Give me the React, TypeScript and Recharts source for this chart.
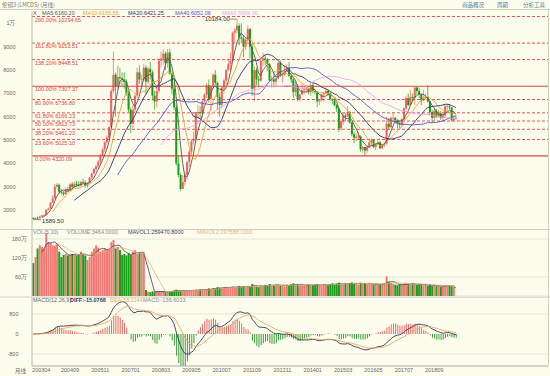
import React from 'react';
import { ComposedChart, Bar, Line, XAxis, YAxis, ReferenceLine, ReferenceDot, CartesianGrid, Cell } from 'recharts';

// ---------- data (monthly, 2003-04 .. 2019-07) ----------
const opens = [
  1660, 1620, 1660, 1650, 1720, 1770, 1790, 2010, 2060,
  2320, 2500, 3000, 3080, 2780, 2750, 2680, 2900, 2850, 3100, 2990, 3130,
  3080, 3050, 3200, 3180, 3040, 3150, 3380, 3560, 3760, 3880, 4080, 4350,
  4600, 4900, 5100, 5550, 7100, 7800, 7300, 7700, 7650, 7600, 7500, 7000,
  6300, 5700, 6300, 6900, 7900, 7600, 7600, 8100, 7500, 8050, 7900, 6900,
  6650, 7100, 8400, 8500, 8700, 8300, 8750, 7850, 7200, 6400, 4000, 3500,
  2900, 3200, 3500, 4050, 4500, 4950, 5050, 6200, 6200, 6150, 6650, 6950,
  7350, 6750, 7300, 7800, 7450, 6850, 6500, 7250, 7550, 8000, 8250, 8400,
  9600, 9700, 9900, 9400, 9350, 9000, 9300, 9750, 9000, 7200, 8000, 7600,
  7550, 8400, 8500, 8450, 8250, 7550, 7600, 7500, 7650, 8300, 7800, 7800,
  7950, 8100, 7750, 7600, 7050, 7300, 6750, 6950, 7150, 7200, 7200, 7050,
  7350, 7100, 7050, 6650, 6700, 6950, 7000, 7100, 7000, 6750, 6700, 6500,
  6350, 5500, 5800, 6050, 6000, 6200, 5750, 5250, 5100, 5150, 5150, 4600,
  4700, 4550, 4700, 4900, 5000, 4700, 4850, 4900, 4650, 4800, 4850, 5700,
  5550, 5950, 5950, 5850, 5700, 5650, 5900, 6350, 6800, 6500, 6850, 6800,
  7250, 7100, 6950, 6700, 6800, 6850, 6650, 6200, 5950, 6250, 6000, 6150,
  5950, 6050, 6450, 6450, 6400, 5850, 5950,
];
const highs = [
  1690, 1700, 1720, 1760, 1800, 1830, 2040, 2110, 2340,
  2640, 3120, 3170, 3140, 2900, 2820, 2960, 2980, 3160, 3200, 3220, 3260,
  3240, 3260, 3350, 3280, 3200, 3420, 3600, 3800, 3940, 4150, 4400, 4650,
  4950, 5200, 5600, 7200, 8800, 7900, 8200, 8100, 7900, 7900, 7600, 7100,
  6400, 6500, 7000, 8100, 8200, 7800, 8250, 8200, 8150, 8350, 8000, 7100,
  7250, 8500, 8800, 8900, 8800, 8900, 8900, 7900, 7500, 6500, 4350, 3600,
  3500, 3650, 4100, 4600, 5050, 5350, 6200, 6500, 6450, 6750, 7000, 7450,
  7600, 7350, 7850, 8000, 7500, 7000, 7300, 7650, 8050, 8450, 8750, 9650,
  9800, 10184, 10000, 10000, 9500, 9400, 9900, 9800, 9150, 8150, 8100, 7750,
  8450, 8750, 8650, 8500, 8300, 7750, 7950, 7700, 8350, 8400, 7900, 8200,
  8250, 8350, 7850, 7650, 7500, 7400, 7000, 7400, 7300, 7350, 7250, 7400,
  7450, 7200, 7100, 6750, 7000, 7050, 7250, 7150, 7050, 6800, 6750, 6550,
  6350, 5900, 6150, 6150, 6450, 6250, 5800, 5350, 5300, 5350, 5200, 4750,
  4700, 4750, 5050, 5100, 5000, 4850, 5000, 4950, 4850, 4900, 6000, 5950,
  6000, 6200, 6000, 5900, 5800, 5950, 6400, 6900, 7000, 7150, 7000, 7300,
  7300, 7250, 7000, 7150, 7000, 7350, 6700, 6300, 6350, 6350, 6300, 6250,
  6150, 6500, 6550, 6550, 6400, 6050, 6100,
];
const lows = [
  1589.5, 1610, 1620, 1640, 1700, 1740, 1780, 1960, 2040,
  2300, 2480, 2920, 2700, 2660, 2600, 2660, 2770, 2820, 2880, 2960, 2980,
  2980, 3000, 3130, 2960, 2950, 3100, 3300, 3520, 3650, 3820, 4000, 4300,
  4500, 4800, 5000, 5500, 7000, 6000, 7200, 7400, 7300, 7200, 6900, 6200,
  5300, 5500, 6200, 6800, 7400, 7200, 7500, 6950, 7400, 7600, 6700, 6300,
  6400, 7000, 8100, 8200, 8000, 8100, 7800, 6950, 6300, 3900, 3400, 2820,
  2900, 3050, 3300, 3850, 4350, 4800, 4900, 5950, 5900, 5950, 6600, 6800,
  6600, 6250, 7200, 7350, 6300, 6000, 6350, 7000, 7400, 7950, 8000, 8350,
  9150, 9550, 9050, 9150, 8550, 8850, 9250, 8500, 6900, 6650, 7350, 7250,
  7500, 8150, 8200, 7950, 7500, 7250, 7350, 7300, 7600, 7700, 7450, 7750,
  7900, 7700, 7450, 6800, 6900, 6650, 6650, 6950, 6950, 7050, 6950, 6900,
  7000, 6950, 6400, 6500, 6650, 6650, 6950, 6900, 6700, 6550, 6450, 6200,
  5350, 5400, 5650, 5800, 6000, 5700, 5150, 4850, 4950, 5000, 4500, 4450,
  4320, 4450, 4650, 4750, 4650, 4550, 4800, 4600, 4600, 4700, 4800, 5450,
  5500, 5850, 5700, 5500, 5500, 5550, 5850, 6300, 6450, 6450, 6650, 6500,
  6950, 6800, 6500, 6650, 6750, 6600, 6050, 5770, 5850, 5950, 5950, 5850,
  5800, 6000, 6250, 6300, 5800, 5800, 5850,
];
const closes = [
  1620, 1660, 1650, 1720, 1770, 1790, 2010, 2060, 2320,
  2500, 3000, 3080, 2780, 2750, 2680, 2900, 2850, 3100, 2990, 3130, 3080,
  3050, 3200, 3180, 3040, 3150, 3380, 3560, 3760, 3880, 4080, 4350, 4600,
  4900, 5100, 5550, 7100, 7800, 7300, 7700, 7650, 7600, 7500, 7000, 6300,
  5700, 6300, 6900, 7900, 7600, 7600, 8100, 7500, 8050, 7900, 6900, 6650,
  7100, 8400, 8500, 8700, 8300, 8750, 7850, 7200, 6400, 4000, 3500, 2900,
  3200, 3500, 4050, 4500, 4950, 5050, 6200, 6200, 6150, 6650, 6950, 7350,
  6750, 7300, 7800, 7450, 6850, 6500, 7250, 7550, 8000, 8250, 8400, 9600,
  9700, 9900, 9400, 9350, 9000, 9300, 9750, 9000, 7200, 8000, 7600, 7550,
  8400, 8500, 8450, 8250, 7550, 7600, 7500, 7650, 8300, 7800, 7800, 7950,
  8100, 7750, 7600, 7050, 7300, 6750, 6950, 7150, 7200, 7200, 7050, 7350,
  7100, 7050, 6650, 6700, 6950, 7000, 7100, 7000, 6750, 6700, 6500, 6350,
  5500, 5800, 6050, 6000, 6200, 5750, 5250, 5100, 5150, 5150, 4600, 4700,
  4550, 4700, 4900, 5000, 4700, 4850, 4900, 4650, 4800, 4850, 5700, 5550,
  5950, 5950, 5850, 5700, 5650, 5900, 6350, 6800, 6500, 6850, 6800, 7250,
  7100, 6950, 6700, 6800, 6850, 6650, 6200, 5950, 6250, 6000, 6150, 5950,
  6050, 6450, 6450, 6400, 5850, 5950, 5950,
];
// volume in 万
const volumes = [
  104, 123, 150, 161, 155, 150, 199, 170, 167, 160, 158, 167, 140, 123, 130, 133, 128, 130, 133, 130,
  128, 131, 140, 133, 128, 114, 123, 140, 150, 160, 153, 140, 145, 150, 147, 150, 170, 177, 150, 155,
  145, 130, 133, 128, 135, 130, 140, 145, 133, 138, 136, 137,
  19, 14, 12, 15, 13, 16, 14, 13, 15, 12, 14, 13, 16, 18,
  20, 17, 15, 16, 18, 17, 19, 16, 18, 20, 19, 21, 18, 20, 22,
  24, 22, 25, 23, 28, 26, 25, 27, 29, 26, 28, 30, 27, 29, 32, 28, 30, 27, 31, 29, 38, 34, 30, 28,
  33, 31, 35, 32, 38, 34, 33, 36, 35, 32, 34, 30, 36, 33, 37, 40, 35, 38, 34, 36,
  33, 35, 37, 32, 34, 36, 38, 35, 33, 37, 36, 34, 38, 40, 36, 39,
  42, 38, 36, 39, 37, 41, 43, 38, 40, 36, 42, 39, 41, 37, 40, 38, 36, 39, 37, 35,
  38, 40, 62, 45, 41, 38, 36, 34, 37, 35, 39, 41, 38, 36, 40, 37, 35, 38, 36, 34,
  37, 33, 35, 32, 34, 31, 33, 30, 32, 34, 31, 33, 30, 31, 0.35,
];
const startYear = 2003;
const startMonth = 4;
const emptySlots = 42;
const tickMonths = ['200304', '200409', '200511', '200701', '200803', '200905', '201007', '201109', '201211', '201401', '201503', '201605', '201707', '201809'];
const priceTicks = [2000, 3000, 4000, 5000, 6000, 7000, 8000, 9000, 10000];
const volTicks = [60, 120, 180];
const macdTicks = [-800, 0, 800];
const fibRatios = ['200.00%', '161.80%', '138.20%', '100.00%', '80.90%', '61.80%', '50.00%', '38.20%', '23.60%', '0.00%'];
const fibValues = [10294.65, 9153.51, 8448.51, 7307.37, 6736.8, 6166.23, 5813.73, 5461.23, 5025.1, 4320.09];
const fibSolid = [false, false, false, true, false, false, false, false, false, true];

// ---------- styles ----------
const BG = '#fdfdee';
const UP = '#f0625e';
const DN = '#12a012';
const VUP = '#f27a74';
const VDN = '#1c9c1c';
const FIB = '#d84444';
const MA_COLORS: Record<string, string> = { ma5: '#555555', ma10: '#e8a430', ma20: '#2e2e6e', ma40: '#5252cc', ma60: '#eaa2ea' };
const FONT = '"Liberation Sans", Arial, sans-serif';
const CJK = '"Noto Sans CJK SC", sans-serif';

// ---------- derived indicators ----------
function sma(arr: number[], n: number): (number | null)[] {
  return arr.map((_, i) => {
    if (i < n - 1) return null;
    let s = 0;
    for (let j = i - n + 1; j <= i; j++) s += arr[j];
    return s / n;
  });
}
function ema(arr: number[], n: number): number[] {
  const a = 2 / (n + 1);
  const out: number[] = [];
  arr.forEach((v, i) => out.push(i === 0 ? v : a * v + (1 - a) * out[i - 1]));
  return out;
}
const ma5 = sma(closes, 5), ma10 = sma(closes, 10), ma20 = sma(closes, 20), ma40 = sma(closes, 40), ma60 = sma(closes, 60);
const mv5 = sma(volumes, 5), mv10 = sma(volumes, 10);
const e12 = ema(closes, 12), e26 = ema(closes, 26);
const dif = e12.map((v, i) => v - e26[i]);
const dea = ema(dif, 9);
const hist = dif.map((v, i) => 2 * (v - dea[i]));

const months: string[] = closes.map((_, i) => {
  const t = startMonth - 1 + i;
  const y = startYear + Math.floor(t / 12);
  const m = (t % 12) + 1;
  return `${y}${m < 10 ? '0' : ''}${m}`;
});

const rows: any[] = closes.map((c, i) => ({
  m: months[i],
  open: opens[i], high: highs[i], low: lows[i], close: c,
  range: [lows[i], highs[i]],
  up: c >= opens[i],
  ma5: ma5[i], ma10: ma10[i], ma20: ma20[i], ma40: ma40[i], ma60: ma60[i],
  vol: volumes[i], mv5: mv5[i], mv10: mv10[i],
  dif: dif[i], dea: dea[i], hist: hist[i],
}));
for (let k = 0; k < emptySlots; k++) rows.push({ m: `_${k}` });

let peakIdx = 0, lowIdx = 0;
highs.forEach((h, i) => { if (h > highs[peakIdx]) peakIdx = i; });
lows.forEach((l, i) => { if (l < lows[lowIdx]) lowIdx = i; });

// ---------- shapes ----------
function Candle(props: any) {
  const { x, y, width, height, payload } = props;
  if (!payload || payload.open == null || !isFinite(y) || !isFinite(height)) return null;
  const { open, close, high, low } = payload;
  const col = close >= open ? UP : DN;
  const top = Math.min(y, y + height);
  const h = Math.abs(height);
  const k = high > low ? h / (high - low) : 0;
  const b1 = top + (high - Math.max(open, close)) * k;
  const b2 = top + (high - Math.min(open, close)) * k;
  const cx = x + width / 2;
  return (
    <g>
      <line x1={cx} x2={cx} y1={top} y2={top + h} stroke={col} strokeWidth={0.7} />
      <rect x={x} y={b1} width={width} height={Math.max(0.7, b2 - b1)} fill={col} />
    </g>
  );
}

function fibLabel(i: number) {
  return (p: any) => {
    const vb = p.viewBox || {};
    return (
      <text x={(vb.x || 0) + 3} y={(vb.y || 0) + 5.3} fontSize={5.5} fill={FIB} fontFamily={FONT}>
        {`${fibRatios[i]} ${fibValues[i].toFixed(2)}`}
      </text>
    );
  };
}

function MacdTick(props: any) {
  const { x, y, payload, index } = props;
  return (
    <text x={index === 0 ? x - 1 : x} y={y + 4} fontSize={5.5} fill="#666" fontFamily={FONT} textAnchor={index === 0 ? 'start' : 'middle'}>
      {payload.value}
    </text>
  );
}

const axisTick = { fontSize: 5.5, fill: '#666', fontFamily: FONT };
const margin = { top: 0, right: 2, bottom: 0, left: 0 };

export default function App() {
  return (
    <div style={{ position: 'absolute', left: 0, top: 0, width: 550, height: 376, background: BG, overflow: 'hidden', fontFamily: FONT }}>
      {/* price panel */}
      <div style={{ position: 'absolute', left: 0, top: 0 }}>
        <ComposedChart width={550} height={229} data={rows} margin={{ ...margin, top: 12 }} barCategoryGap="8%">
          <XAxis dataKey="m" type="category" hide />
          <YAxis width={32} domain={[1187, 10487]} ticks={priceTicks} allowDataOverflow tickSize={0} tickMargin={16.5}
            tick={axisTick} tickFormatter={(v: number) => (v === 10000 ? '1万' : String(v))} axisLine={{ stroke: '#b8b8b0' }} />
          {fibValues.map((v, i) => (
            <ReferenceLine key={i} y={v} stroke={FIB} strokeWidth={fibSolid[i] ? 1.1 : 0.9}
              strokeDasharray={fibSolid[i] ? undefined : '3 2'} label={fibLabel(i)} />
          ))}
          <Bar dataKey="range" shape={<Candle />} isAnimationActive={false} />
          {Object.keys(MA_COLORS).map((k) => (
            <Line key={k} dataKey={k} stroke={MA_COLORS[k]} strokeWidth={0.9} dot={false} isAnimationActive={false} connectNulls={false} />
          ))}
          <ReferenceDot x={months[peakIdx]} y={highs[peakIdx]} r={0} isFront
            shape={(p: any) => (
              <g>
                <line x1={p.cx - 7} x2={p.cx} y1={p.cy} y2={p.cy} stroke="#444" strokeWidth={0.6} />
                <text x={p.cx - 7} y={p.cy + 2.2} fontSize={6} fill="#333" textAnchor="end" fontFamily={FONT}>{highs[peakIdx].toFixed(2)}</text>
              </g>
            )} />
          <ReferenceDot x={months[lowIdx]} y={lows[lowIdx]} r={0} isFront
            shape={(p: any) => (
              <g>
                <line x1={p.cx} x2={p.cx + 8} y1={p.cy} y2={p.cy} stroke="#444" strokeWidth={0.6} />
                <text x={p.cx + 9} y={p.cy + 3} fontSize={6} fill="#333" fontFamily={FONT}>{lows[lowIdx].toFixed(2)}</text>
              </g>
            )} />
        </ComposedChart>
      </div>

      {/* volume panel */}
      <div style={{ position: 'absolute', left: 0, top: 229 }}>
        <ComposedChart width={550} height={67} data={rows} margin={margin} barCategoryGap="12%">
          <CartesianGrid horizontal vertical={false} stroke="#e6e6d6" />
          <XAxis dataKey="m" type="category" hide />
          <YAxis width={32} domain={[0, 211.6]} ticks={volTicks} allowDataOverflow tickSize={0} tickMargin={5}
            tick={axisTick} tickFormatter={(v: number) => `${v}万`} axisLine={{ stroke: '#b8b8b0' }} />
          <Bar dataKey="vol" isAnimationActive={false}>
            {rows.map((r, i) => <Cell key={i} fill={r.up ? VUP : VDN} />)}
          </Bar>
          <Line dataKey="mv5" stroke="#3a3a66" strokeWidth={0.8} dot={false} isAnimationActive={false} />
          <Line dataKey="mv10" stroke="#e8b070" strokeWidth={0.8} dot={false} isAnimationActive={false} />
        </ComposedChart>
      </div>

      {/* MACD panel */}
      <div style={{ position: 'absolute', left: 0, top: 297 }}>
        <ComposedChart width={550} height={79} data={rows} margin={margin}>
          <CartesianGrid horizontal vertical={false} stroke="#e6e6d6" />
          <XAxis dataKey="m" type="category" height={10} ticks={tickMonths} interval={0} tick={<MacdTick />}
            tickLine={false} tickSize={0} tickMargin={2} axisLine={{ stroke: '#b8b8b0' }} />
          <YAxis width={32} domain={[-1280, 1480]} ticks={macdTicks} allowDataOverflow tickSize={0} tickMargin={13.5}
            tick={axisTick} axisLine={{ stroke: '#b8b8b0' }} />
          <Bar dataKey="hist" barSize={1} isAnimationActive={false}>
            {rows.map((r, i) => <Cell key={i} fill={r.hist >= 0 ? '#e86a66' : '#3c9c3c'} />)}
          </Bar>
          <Line dataKey="dif" stroke="#34345a" strokeWidth={0.9} dot={false} isAnimationActive={false} />
          <Line dataKey="dea" stroke="#e8a860" strokeWidth={0.9} dot={false} isAnimationActive={false} />
        </ComposedChart>
      </div>

      {/* frame and texts */}
      <svg width={550} height={376} style={{ position: 'absolute', left: 0, top: 0, pointerEvents: 'none' }}>
        <line x1={0} x2={550} y1={9.5} y2={9.5} stroke="#c4c4bc" strokeWidth={0.8} />
        <line x1={0} x2={550} y1={229.5} y2={229.5} stroke="#c4c4bc" strokeWidth={0.8} />
        <line x1={0} x2={550} y1={297} y2={297} stroke="#c4c4bc" strokeWidth={0.8} />
        <line x1={548.5} x2={548.5} y1={9.5} y2={366} stroke="#c4c4bc" strokeWidth={0.8} />
        <text x={2} y={6.5} fontSize={5.5} fill="#777" fontFamily={CJK}>伦铜3 (LMCDS) (月线)</text>
        <text x={462} y={6.5} fontSize={5.5} fill="#3f7ea6" fontFamily={CJK}>商品概况</text>
        <text x={497} y={6.5} fontSize={5.5} fill="#3f7ea6" fontFamily={CJK}>周期</text>
        <text x={523} y={6.5} fontSize={5.5} fill="#3f7ea6" fontFamily={CJK}>分析工具</text>

        <text y={14.5} fontSize={5.5} fontFamily={FONT}>
          <tspan x={33} fill="#555">X</tspan>
          <tspan x={42} fill={MA_COLORS.ma5}>MA5:6160.20</tspan>
          <tspan x={83} fill={MA_COLORS.ma10}>MA10:6155.55</tspan>
          <tspan x={128} fill={MA_COLORS.ma20}>MA20:6421.25</tspan>
          <tspan x={175} fill={MA_COLORS.ma40}>MA40:6052.06</tspan>
          <tspan x={222} fill={MA_COLORS.ma60}>MA60:5909.30</tspan>
        </text>
        <text y={233.5} fontSize={5.5} fontFamily={FONT}>
          <tspan x={33} fill="#888">VOL(5,10)</tspan>
          <tspan x={67} fill="#888">VOLUME:3464.0000</tspan>
          <tspan x={128} fill="#3a3a66">MAVOL1:259470.8000</tspan>
          <tspan x={197} fill="#e8b070">MAVOL2:297588.1000</tspan>
        </text>
        <text y={302} fontSize={5.5} fontFamily={FONT}>
          <tspan x={33} fill="#666">MACD(12,26,9)</tspan>
          <tspan x={70} fill="#34345a" fontWeight="bold">DIFF:-15.0768</tspan>
          <tspan x={110} fill="#e8a860">DEA:33.2244</tspan>
          <tspan x={143} fill="#888">MACD:-136.6023</tspan>
        </text>
        <text x={15} y={373} fontSize={5.5} fill="#666" fontFamily={CJK}>月线</text>
      </svg>
    </div>
  );
}
